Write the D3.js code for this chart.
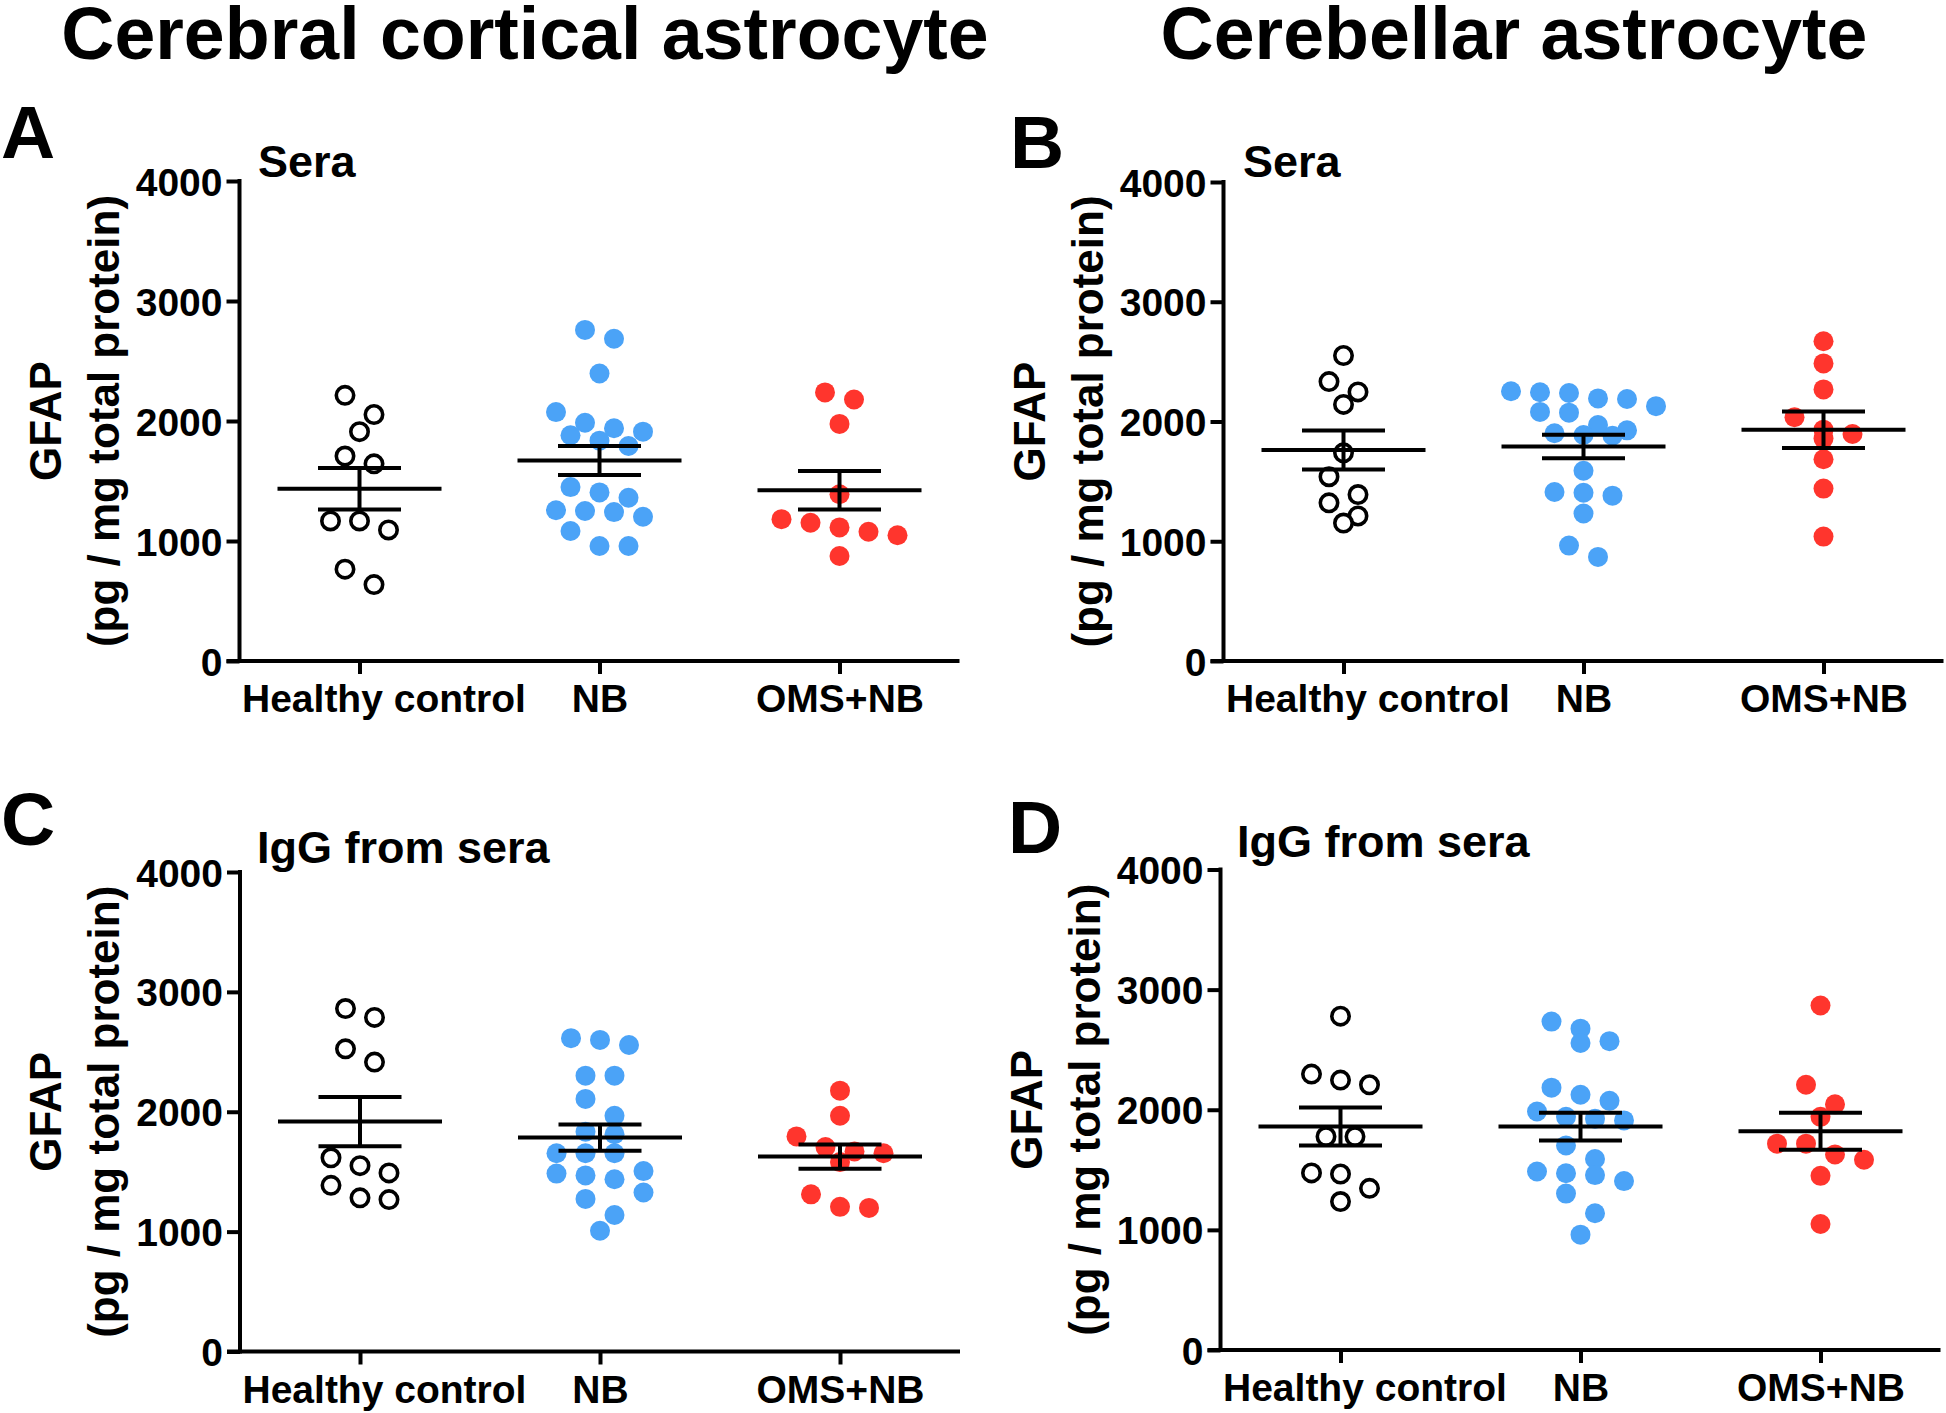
<!DOCTYPE html>
<html>
<head>
<meta charset="utf-8">
<script src="https://cdn.jsdelivr.net/npm/d3@7"></script>
<style>
  html, body { margin: 0; padding: 0; background: #ffffff; }
  svg { display: block; }
  text { font-family: "Liberation Sans", Arial, Helvetica, sans-serif; font-weight: bold; fill: #000; }
</style>
</head>
<body>
<svg id="chart" width="1946" height="1413"></svg>
<script>
// ---------------- DATA ----------------
const categories = ["Healthy control", "NB", "OMS+NB"];
const columnTitles = ["Cerebral cortical astrocyte", "Cerebellar astrocyte"];
const panelLetters = ["A", "B", "C", "D"];
const panelSubtitles = ["Sera", "Sera", "IgG from sera", "IgG from sera"];
const yTickValues = [0, 1000, 2000, 3000, 4000];
const yTitleLine1 = "GFAP";
const yTitleLine2 = "(pg / mg total protein)";

// Panel A: cerebral cortical astrocyte, sera
const cortexSeraHC  = [2214, 2054, 1911, 1708, 1643, 1167, 1167, 1092, 765, 637];
const cortexSeraNB  = [2759, 2685, 2396, 2074, 1985, 1911, 1940, 1881, 1836, 1792,
                       1449, 1405, 1360, 1256, 1250, 1241, 1202, 1083, 958, 958];
const cortexSeraOMS = [2238, 2179, 1976, 1390, 1182, 1077, 1152, 1048, 1113, 875];

// Panel B: cerebellar astrocyte, sera
const cerebSeraHC  = [2551, 2333, 2247, 2143, 1738, 1539, 1390, 1321, 1211, 1152];
const cerebSeraNB  = [2244, 2253, 2238, 2193, 2188, 2128, 2074, 2080, 1970, 1926,
                      1887, 1881, 1902, 1589, 1411, 1381, 1405, 1232, 964, 869];
const cerebSeraOMS = [2670, 2485, 2268, 2036, 1932, 1896, 1857, 1685, 1440, 1039];

// Panel C: cerebral cortical astrocyte, IgG from sera
const cortexIgGHC  = [2861, 2787, 2525, 2414, 1616, 1550, 1490, 1386, 1282, 1267];
const cortexIgGNB  = [2614, 2599, 2557, 2301, 2301, 2107, 1967, 1833, 1812, 1654,
                      1654, 1654, 1505, 1484, 1469, 1437, 1326, 1273, 1139, 1007];
const cortexIgGOMS = [2176, 1967, 1794, 1705, 1654, 1669, 1580, 1311, 1198, 1207];

// Panel D: cerebellar astrocyte, IgG from sera
const cerebIgGHC  = [2779, 2297, 2208, 2247, 1777, 1777, 1465, 1474, 1346, 1236];
const cerebIgGNB  = [2734, 2675, 2571, 2556, 2184, 2125, 2074, 1985, 1926, 1911,
                     1941, 1703, 1590, 1471, 1406, 1456, 1486, 1302, 1138, 960];
const cerebIgGOMS = [2868, 2208, 2045, 1941, 1718, 1718, 1628, 1584, 1450, 1049];

// ---------------- LAYOUT / STYLE ----------------
const groupStyles = [
  { fill: "#ffffff", stroke: "#000000", strokeWidth: 3.6, r: 8.7 },
  { fill: "#4ba3f7", stroke: "none", strokeWidth: 0, r: 10 },
  { fill: "#ff352d", stroke: "none", strokeWidth: 0, r: 10 }
];

const panels = [
  { letter: panelLetters[0], subtitle: panelSubtitles[0], groups: [cortexSeraHC, cortexSeraNB, cortexSeraOMS],
    x0: 239.5, yTop: 181, yBot: 661, letterX: 1, letterY: 158, subX: 258, subY: 177 },
  { letter: panelLetters[1], subtitle: panelSubtitles[1], groups: [cerebSeraHC, cerebSeraNB, cerebSeraOMS],
    x0: 1223.5, yTop: 182, yBot: 661, letterX: 1010, letterY: 168, subX: 1243, subY: 177 },
  { letter: panelLetters[2], subtitle: panelSubtitles[2], groups: [cortexIgGHC, cortexIgGNB, cortexIgGOMS],
    x0: 240, yTop: 872, yBot: 1351.5, letterX: 1, letterY: 845, subX: 257, subY: 863 },
  { letter: panelLetters[3], subtitle: panelSubtitles[3], groups: [cerebIgGHC, cerebIgGNB, cerebIgGOMS],
    x0: 1220.5, yTop: 869.5, yBot: 1350, letterX: 1008, letterY: 853, subX: 1237, subY: 857 }
];

const axisWidth = 720;
const lineW = 4;
const tickLen = 13;
const meanHalf = 82;
const semHalf = 41.5;
const swarmStep = 29;
const swarmRow = 20;

const svg = d3.select("#chart");

// Column titles
svg.selectAll("text.coltitle")
  .data(columnTitles)
  .join("text")
  .attr("class", "coltitle")
  .attr("x", (d, i) => i === 0 ? 525 : 1514)
  .attr("y", 59)
  .attr("text-anchor", "middle")
  .style("font-size", "73.5px")
  .text(d => d);

// Row-binned scatter layout (points of similar value share a row, centred on the category)
function beeswarm(values, y) {
  const idx = values.map((v, i) => i).sort((a, b) => values[b] - values[a]);
  const offsets = new Array(values.length).fill(0);
  let row = [];
  let rowStart = null;
  const flush = () => {
    const n = row.length;
    row.forEach((i, j) => { offsets[i] = (j - (n - 1) / 2) * swarmStep; });
    row = [];
  };
  idx.forEach(i => {
    const py = y(values[i]);
    if (rowStart === null || Math.abs(py - rowStart) >= swarmRow) {
      flush();
      rowStart = py;
    }
    row.push(i);
  });
  flush();
  return offsets;
}

panels.forEach(p => {
  const g = svg.append("g");
  const y = d3.scaleLinear().domain([0, 4000]).range([p.yBot, p.yTop]);
  const x = d3.scalePoint().domain(categories).range([p.x0, p.x0 + axisWidth]).padding(0.5);

  // Panel letter
  g.append("text").attr("x", p.letterX).attr("y", p.letterY)
    .style("font-size", "75px").text(p.letter);
  // Subtitle
  g.append("text").attr("x", p.subX).attr("y", p.subY)
    .style("font-size", "45px").text(p.subtitle);

  // Y axis title
  const yMid = (p.yTop + p.yBot) / 2;
  g.append("text")
    .attr("transform", `translate(${p.x0 - 179},${yMid}) rotate(-90)`)
    .attr("text-anchor", "middle")
    .style("font-size", "44px").text(yTitleLine1);
  g.append("text")
    .attr("transform", `translate(${p.x0 - 121},${yMid}) rotate(-90)`)
    .attr("text-anchor", "middle")
    .style("font-size", "44px").text(yTitleLine2);

  // Y axis
  const yAxis = d3.axisLeft(y).tickValues(yTickValues).tickFormat(d3.format("d"))
    .tickSize(tickLen).tickPadding(4);
  const ya = g.append("g").attr("transform", `translate(${p.x0},0)`).call(yAxis);
  ya.select(".domain").remove();
  ya.selectAll(".tick line").attr("stroke", "#000").attr("stroke-width", lineW);
  ya.selectAll(".tick text").style("font-size", "39px")
    .style("font-family", "'Liberation Sans', Arial, sans-serif").style("font-weight", "bold")
    .attr("fill", "#000").attr("dy", "0.36em");
  ya.append("line").attr("x1", 0).attr("x2", 0)
    .attr("y1", p.yTop - lineW / 2).attr("y2", p.yBot + lineW / 2)
    .attr("stroke", "#000").attr("stroke-width", lineW);

  // X axis
  const xAxis = d3.axisBottom(x).tickSize(tickLen).tickPadding(14);
  const xa = g.append("g").attr("transform", `translate(0,${p.yBot})`).call(xAxis);
  xa.select(".domain").remove();
  xa.append("line").attr("x1", p.x0 - tickLen).attr("x2", p.x0 + axisWidth)
    .attr("y1", 0).attr("y2", 0).attr("stroke", "#000").attr("stroke-width", lineW);
  xa.selectAll(".tick line").attr("stroke", "#000").attr("stroke-width", lineW);
  xa.selectAll(".tick text").style("font-size", "39px")
    .style("font-family", "'Liberation Sans', Arial, sans-serif").style("font-weight", "bold")
    .attr("fill", "#000").attr("dy", "0").attr("y", 51).attr("dominant-baseline", "alphabetic");
  // Keep labels clear of the y axis
  xa.selectAll(".tick text").each(function () {
    const t = d3.select(this);
    const w = this.getComputedTextLength();
    const cx = x(t.text());
    if (cx - w / 2 < p.x0 + 2) t.attr("x", (p.x0 + 2 + w / 2) - cx);
  });

  // Dots
  p.groups.forEach((vals, gi) => {
    const st = groupStyles[gi];
    const offs = beeswarm(vals, y);
    const cx = x(categories[gi]);
    g.append("g").selectAll("circle")
      .data(vals)
      .join("circle")
      .attr("cx", (d, i) => cx + offs[i])
      .attr("cy", d => y(d))
      .attr("r", st.r)
      .attr("fill", st.fill)
      .attr("stroke", st.stroke)
      .attr("stroke-width", st.strokeWidth);
  });

  // Mean and SEM
  p.groups.forEach((vals, gi) => {
    const m = d3.mean(vals);
    const sem = d3.deviation(vals) / Math.sqrt(vals.length);
    const cx = x(categories[gi]);
    const lg = g.append("g").attr("stroke", "#000").attr("stroke-width", lineW);
    lg.append("line").attr("x1", cx - meanHalf).attr("x2", cx + meanHalf)
      .attr("y1", y(m)).attr("y2", y(m));
    lg.append("line").attr("x1", cx - semHalf).attr("x2", cx + semHalf)
      .attr("y1", y(m + sem)).attr("y2", y(m + sem));
    lg.append("line").attr("x1", cx - semHalf).attr("x2", cx + semHalf)
      .attr("y1", y(m - sem)).attr("y2", y(m - sem));
    lg.append("line").attr("x1", cx).attr("x2", cx)
      .attr("y1", y(m + sem)).attr("y2", y(m - sem));
  });
});
</script>
</body>
</html>
